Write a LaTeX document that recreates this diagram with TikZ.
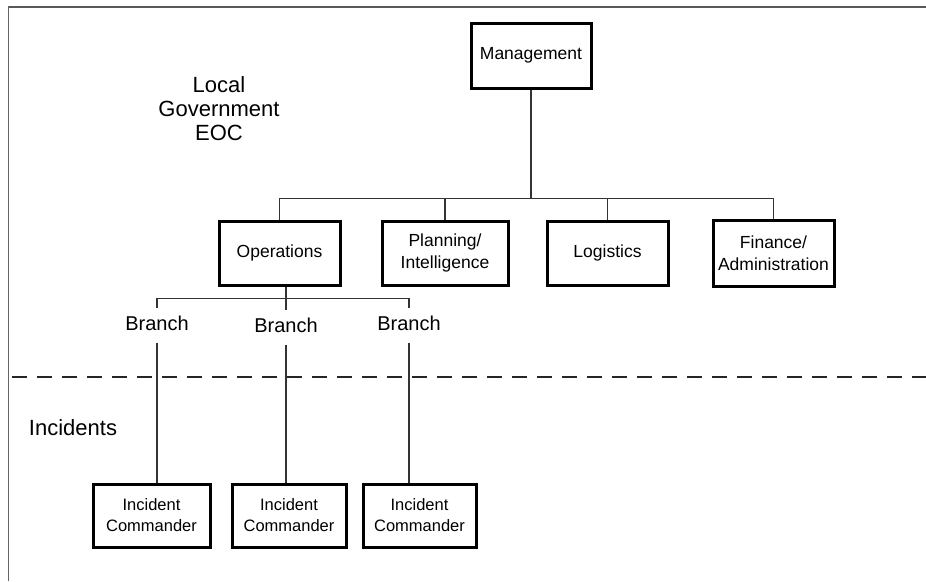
\documentclass[tikz,border=0pt]{standalone}
\usepackage{fontspec}
\setmainfont{Liberation Sans}
\begin{document}
\begin{tikzpicture}[x=1pt,y=-1pt,
  orgbox/.style={draw=black, line width=3pt, fill=white, inner sep=0pt,
    align=center, font=\fontsize{17.5}{22}\selectfont},
  icbox/.style={orgbox, font=\fontsize{16.5}{21}\selectfont},
  branchlbl/.style={font=\fontsize{20}{24}\selectfont, inner xsep=2pt,
    inner ysep=8pt, text height=14.5pt, text depth=4pt},
  biglbl/.style={font=\fontsize{22}{24}\selectfont, align=center, inner sep=0pt},
  link/.style={draw=black!80, line width=1.5pt}]
\useasboundingbox (0,0) rectangle (926,581);

% frame edges
\draw[black!65, line width=2pt] (8,6.5) -- (926,6.5);
\draw[black!60, line width=1pt] (8,6) -- (8,581);

% EOC / incidents divider
\draw[black!85, line width=1.5pt, dash pattern=on 15pt off 10pt] (12,377) -- (926,377);

% side labels
\node[biglbl] (eoc) at (219,109) {Local\\Government\\EOC};
\node[biglbl] (inc) at (73,428) {Incidents};

% EOC sections
\node[orgbox, minimum width=120pt, minimum height=65pt] (mgmt) at (531,55.5) {Management};
\node[orgbox, minimum width=121pt, minimum height=64pt] (ops) at (279.5,253) {Operations};
\node[orgbox, minimum width=126pt, minimum height=64pt] (plan) at (445,253) {Planning/\\Intelligence};
\node[orgbox, minimum width=121pt, minimum height=64pt] (logi) at (607.5,253) {Logistics};
\node[orgbox, minimum width=121pt, minimum height=66pt] (fin) at (773.5,253) {Finance/\\Administration};

% branches
\node[branchlbl] (b1) at (157,325.2) {Branch};
\node[branchlbl] (b2) at (286,327.2) {Branch};
\node[branchlbl] (b3) at (409,325.2) {Branch};

% field commanders
\node[icbox, minimum width=117pt, minimum height=63pt] (ic1) at (151.5,515.5) {Incident\\Commander};
\node[icbox, minimum width=114pt, minimum height=63pt] (ic2) at (289,515.5) {Incident\\Commander};
\node[icbox, minimum width=113pt, minimum height=63pt] (ic3) at (419.5,515.5) {Incident\\Commander};

% management to sections
\draw[link] (ops.north) -- ++(0,-21) coordinate (bar) -| (fin.north);
\draw[link] (mgmt.south) -- (mgmt.south |- bar);
\draw[link] (plan.north) -- (plan.north |- bar);
\draw[link] (logi.north) -- (logi.north |- bar);

% operations to branches
\draw[link] (b2.north) -- (b2.north |- ops.south);
\draw[link] (b1.north) -- ++(0,-9.5) -| (b3.north);

% branches to incident commanders
\draw[link] (b1.south) -- (b1.south |- ic1.north);
\draw[link] (b2.south) -- (b2.south |- ic2.north);
\draw[link] (b3.south) -- (b3.south |- ic3.north);
\end{tikzpicture}
\end{document}
